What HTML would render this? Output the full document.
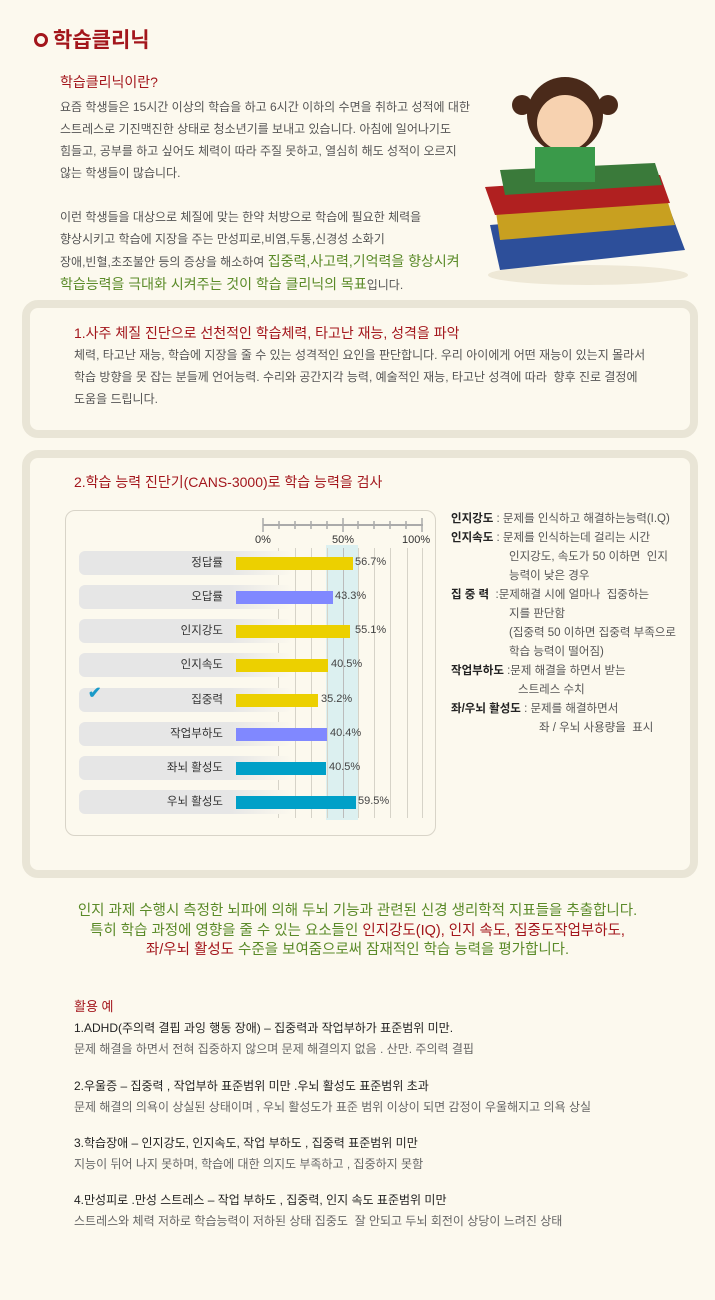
<!DOCTYPE html>
<html><head><meta charset="utf-8"><style>
*{margin:0;padding:0;box-sizing:border-box}
body{width:715px;height:1300px;background:#fcf9ee;font-family:"Liberation Sans","Noto Sans CJK KR",sans-serif;position:relative;overflow:hidden;color:#555}
.a{position:absolute;white-space:nowrap}
.t{font-size:12px;line-height:22px}
.red{color:#a3161c}.grn{color:#5a8a28}
.box{position:absolute;left:22px;width:676px;border:8px solid #e9e5d6;border-radius:16px;background:#fcf9ee}
.lbl{position:absolute;left:79px;width:214px;height:24px;border-radius:6px;background:linear-gradient(90deg,#e6e6e6 70%,#fcf9ee);font-size:11.5px;color:#333;text-align:right;padding-right:70px;line-height:24px}
.bar{position:absolute;left:236px;height:13px}
.v{position:absolute;font-size:11px;color:#444}
.g{position:absolute;top:548px;width:1px;height:270px;background:#d6d3c8}
.it{position:absolute;left:74px;font-size:12px;line-height:21px;color:#666;white-space:nowrap}
.it b{font-weight:normal;color:#222}
</style></head><body>
<div class="a" style="left:34px;top:24px;font-size:21px;font-weight:bold;color:#a3161c"><span style="display:inline-block;width:14px;height:14px;border:3px solid #a3161c;border-radius:50%;margin-right:5px"></span>학습클리닉</div>
<div class="a red" style="left:60px;top:72px;font-size:14px">학습클리닉이란?</div>
<div class="a t" style="left:60px;top:96px">요즘 학생들은 15시간 이상의 학습을 하고 6시간 이하의 수면을 취하고 성적에 대한<br>스트레스로 기진맥진한 상태로 청소년기를 보내고 있습니다. 아침에 일어나기도<br>힘들고, 공부를 하고 싶어도 체력이 따라 주질 못하고, 열심히 해도 성적이 오르지<br>않는 학생들이 많습니다.<br><br>이런 학생들을 대상으로 체질에 맞는 한약 처방으로 학습에 필요한 체력을<br>향상시키고 학습에 지장을 주는 만성피로,비염,두통,신경성 소화기<br>장애,빈혈,초조불안 등의 증상을 해소하여 <span class="grn" style="font-size:14px">집중력,사고력,기억력을 향상시켜</span><br><span class="grn" style="font-size:14px">학습능력을 극대화 시켜주는 것이 학습 클리닉의 목표</span>입니다.</div>
<svg class="a" style="left:470px;top:75px" width="235" height="215">
<ellipse cx="118" cy="200" rx="100" ry="10" fill="#eee8d6"/>
<polygon points="20,150 200,135 215,175 30,195" fill="#2d4f9a"/>
<polygon points="25,130 195,118 205,150 30,165" fill="#c8a020"/>
<polygon points="15,112 190,100 200,128 25,140" fill="#b02020"/>
<polygon points="30,95 185,88 192,110 35,120" fill="#3a7a3a"/>
<circle cx="95" cy="40" r="38" fill="#4a2a1a"/>
<circle cx="95" cy="48" r="28" fill="#f7d2b0"/>
<circle cx="52" cy="30" r="10" fill="#4a2a1a"/><circle cx="138" cy="30" r="10" fill="#4a2a1a"/>
<rect x="65" y="72" width="60" height="35" fill="#3a9a4a"/>
</svg>
<div class="box" style="top:300px;height:138px"></div>
<div class="a red" style="left:74px;top:323px;font-size:14px">1.사주 체질 진단으로 선천적인 학습체력, 타고난 재능, 성격을 파악</div>
<div class="a t" style="left:74px;top:344px">체력, 타고난 재능, 학습에 지장을 줄 수 있는 성격적인 요인을 판단합니다. 우리 아이에게 어떤 재능이 있는지 몰라서<br>학습 방향을 못 잡는 분들께 언어능력. 수리와 공간지각 능력, 예술적인 재능, 타고난 성격에 따라&nbsp; 향후 진로 결정에<br>도움을 드립니다.</div>
<div class="box" style="top:450px;height:428px"></div>
<div class="a red" style="left:74px;top:472px;font-size:14px">2.학습 능력 진단기(CANS-3000)로 학습 능력을 검사</div>
<div class="a" style="left:65px;top:510px;width:371px;height:326px;border:1px solid #d8d4c8;border-radius:10px"></div>
<div class="a" style="left:326px;top:545px;width:32px;height:275px;background:#dcf0f0"></div>
<div class="g" style="left:278px"></div><div class="g" style="left:295px"></div><div class="g" style="left:311px"></div><div class="g" style="left:327px"></div><div class="g" style="left:343px;background:#bbb"></div><div class="g" style="left:358px"></div><div class="g" style="left:374px"></div><div class="g" style="left:390px"></div><div class="g" style="left:407px"></div><div class="g" style="left:422px"></div>
<div class="a" style="left:263px;top:524px;width:160px;height:2px;background:#aaa"></div>
<svg class="a" style="left:262px;top:518px" width="164" height="14"><g stroke="#aaa" stroke-width="1.5">
<line x1="1" y1="0" x2="1" y2="14"/><line x1="17" y1="3" x2="17" y2="11"/><line x1="33" y1="3" x2="33" y2="11"/><line x1="49" y1="3" x2="49" y2="11"/><line x1="65" y1="3" x2="65" y2="11"/><line x1="81" y1="0" x2="81" y2="14"/><line x1="96" y1="3" x2="96" y2="11"/><line x1="112" y1="3" x2="112" y2="11"/><line x1="128" y1="3" x2="128" y2="11"/><line x1="144" y1="3" x2="144" y2="11"/><line x1="160" y1="0" x2="160" y2="14"/></g></svg>
<div class="a" style="left:255px;top:534px;font-size:11px;color:#333">0%</div>
<div class="a" style="left:332px;top:534px;font-size:11px;color:#333">50%</div>
<div class="a" style="left:402px;top:534px;font-size:11px;color:#333">100%</div>
<div class="lbl" style="top:551px">정답률</div><div class="bar" style="top:557px;width:117px;background:#ecd000"></div><div class="v" style="left:355px;top:556px">56.7%</div>
<div class="lbl" style="top:585px">오답률</div><div class="bar" style="top:591px;width:97px;background:#8088ff"></div><div class="v" style="left:335px;top:590px">43.3%</div>
<div class="lbl" style="top:619px">인지강도</div><div class="bar" style="top:625px;width:114px;background:#ecd000"></div><div class="v" style="left:355px;top:624px">55.1%</div>
<div class="lbl" style="top:653px">인지속도</div><div class="bar" style="top:659px;width:92px;background:#ecd000"></div><div class="v" style="left:331px;top:658px">40.5%</div>
<div class="lbl" style="top:688px">집중력</div><div class="bar" style="top:694px;width:82px;background:#ecd000"></div><div class="v" style="left:321px;top:693px">35.2%</div>
<div class="a" style="left:88px;top:683px;font-size:16px;color:#1a9ac8;font-weight:bold">✔</div>
<div class="lbl" style="top:722px">작업부하도</div><div class="bar" style="top:728px;width:91px;background:#8088ff"></div><div class="v" style="left:330px;top:727px">40.4%</div>
<div class="lbl" style="top:756px">좌뇌 활성도</div><div class="bar" style="top:762px;width:90px;background:#00a0c8"></div><div class="v" style="left:329px;top:761px">40.5%</div>
<div class="lbl" style="top:790px">우뇌 활성도</div><div class="bar" style="top:796px;width:120px;background:#00a0c8"></div><div class="v" style="left:358px;top:795px">59.5%</div>
<div class="a" style="left:451px;top:510px;font-size:11.5px;line-height:19px;color:#555">
<b style="color:#222">인지강도</b> : 문제를 인식하고 해결하는능력(I.Q)<br>
<b style="color:#222">인지속도</b> : 문제를 인식하는데 걸리는 시간<br>
<span style="padding-left:58px">인지강도, 속도가 50 이하면&nbsp; 인지</span><br>
<span style="padding-left:58px">능력이 낮은 경우</span><br>
<b style="color:#222">집 중 력</b>&nbsp; :문제해결 시에 얼마나&nbsp; 집중하는<br>
<span style="padding-left:58px">지를 판단함</span><br>
<span style="padding-left:58px">(집중력 50 이하면 집중력 부족으로</span><br>
<span style="padding-left:58px">학습 능력이 떨어짐)</span><br>
<b style="color:#222">작업부하도</b> :문제 해결을 하면서 받는<br>
<span style="padding-left:67px">스트레스 수치</span><br>
<b style="color:#222">좌/우뇌 활성도</b> : 문제를 해결하면서<br>
<span style="padding-left:88px">좌 / 우뇌 사용량을&nbsp; 표시</span></div>
<div class="a grn" style="left:0;width:715px;top:902px;font-size:14.5px;line-height:19.5px;text-align:center">인지 과제 수행시 측정한 뇌파에 의해 두뇌 기능과 관련된 신경 생리학적 지표들을 추출합니다.<br>특히 학습 과정에 영향을 줄 수 있는 요소들인 <span class="red">인지강도(IQ), 인지 속도, 집중도작업부하도,</span><br><span class="red">좌/우뇌 활성도</span> 수준을 보여줌으로써 잠재적인 학습 능력을 평가합니다.</div>
<div class="a red" style="left:74px;top:996px;font-size:13px">활용 예</div>
<div class="it" style="top:1018px"><b>1.ADHD(주의력 결핍 과잉 행동 장애) – 집중력과 작업부하가 표준범위 미만.</b><br>문제 해결을 하면서 전혀 집중하지 않으며 문제 해결의지 없음 . 산만. 주의력 결핍</div>
<div class="it" style="top:1076px"><b>2.우울증 – 집중력 , 작업부하 표준범위 미만 .우뇌 활성도 표준범위 초과</b><br>문제 해결의 의욕이 상실된 상태이며 , 우뇌 활성도가 표준 범위 이상이 되면 감정이 우울해지고 의욕 상실</div>
<div class="it" style="top:1133px"><b>3.학습장애 – 인지강도, 인지속도, 작업 부하도 , 집중력 표준범위 미만</b><br>지능이 뒤어 나지 못하며, 학습에 대한 의지도 부족하고 , 집중하지 못함</div>
<div class="it" style="top:1190px"><b>4.만성피로 .만성 스트레스 – 작업 부하도 , 집중력, 인지 속도 표준범위 미만</b><br>스트레스와 체력 저하로 학습능력이 저하된 상태 집중도&nbsp; 잘 안되고 두뇌 회전이 상당이 느려진 상태</div>
</body></html>
